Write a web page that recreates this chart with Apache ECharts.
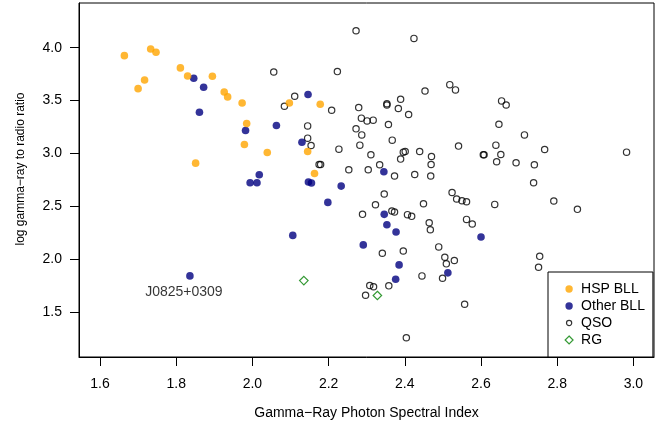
<!DOCTYPE html>
<html>
<head>
<meta charset="utf-8">
<script src="https://cdn.jsdelivr.net/npm/echarts@6/dist/echarts.min.js"></script>
<style>
html,body{margin:0;padding:0;background:#fff;}
#chart{width:672px;height:432px;}
</style>
</head>
<body>
<div id="chart"></div>
<script>
// ---- data ----
const xTicks = [1.6, 1.8, 2.0, 2.2, 2.4, 2.6, 2.8, 3.0];
const yTicks = [1.5, 2.0, 2.5, 3.0, 3.5, 4.0];

const hspBll = [
  [1.664, 3.925], [1.700, 3.613], [1.717, 3.695], [1.733, 3.988], [1.747, 3.957],
  [1.811, 3.809], [1.830, 3.733], [1.895, 3.730], [1.926, 3.582], [1.935, 3.535],
  [1.973, 3.478], [1.985, 3.283], [1.979, 3.085], [1.851, 2.909], [2.039, 3.009],
  [2.097, 3.478], [2.145, 3.019], [2.163, 2.811], [2.178, 3.466]
];

const otherBll = [
  [1.846, 3.711], [1.872, 3.626], [1.861, 3.390], [1.982, 3.217], [2.063, 3.264],
  [2.146, 3.557], [2.130, 3.107], [1.994, 2.724], [2.012, 2.724], [2.018, 2.799],
  [2.147, 2.730], [2.155, 2.721], [2.106, 2.226], [1.836, 1.843], [2.345, 2.827],
  [2.233, 2.692], [2.198, 2.538], [2.346, 2.425], [2.353, 2.327], [2.377, 2.258],
  [2.291, 2.136], [2.600, 2.211], [2.385, 1.947], [2.376, 1.811], [2.513, 1.872]
];

const qso = [
  [2.056, 3.771], [2.084, 3.447], [2.111, 3.541], [2.145, 3.261], [2.145, 3.145],
  [2.154, 3.075], [2.175, 2.896], [2.179, 2.896], [2.272, 4.160], [2.424, 4.088],
  [2.223, 3.774], [2.518, 3.651], [2.533, 3.601], [2.453, 3.591], [2.389, 3.513],
  [2.353, 3.470], [2.353, 3.458], [2.383, 3.425], [2.279, 3.434], [2.208, 3.409],
  [2.410, 3.368], [2.286, 3.334], [2.301, 3.308], [2.317, 3.315], [2.357, 3.274],
  [2.272, 3.233], [2.287, 3.176], [2.367, 3.126], [2.282, 3.079], [2.227, 3.041],
  [2.311, 2.988], [2.396, 3.013], [2.401, 3.019], [2.439, 3.019], [2.470, 2.972],
  [2.469, 2.896], [2.389, 2.947], [2.541, 3.070], [2.606, 2.988], [2.608, 2.988],
  [2.639, 3.079], [2.641, 2.922], [2.647, 3.277], [2.654, 3.497], [2.666, 3.459],
  [2.334, 2.893], [2.253, 2.846], [2.304, 2.846], [2.373, 2.787], [2.426, 2.802],
  [2.468, 2.787], [2.714, 3.176], [2.767, 3.038], [2.982, 3.013], [2.652, 2.991],
  [2.692, 2.912], [2.740, 2.893], [2.738, 2.724], [2.636, 2.519], [2.791, 2.551],
  [2.853, 2.472], [2.754, 2.028], [2.751, 1.925], [2.346, 2.617], [2.323, 2.516],
  [2.289, 2.425], [2.366, 2.457], [2.373, 2.447], [2.407, 2.422], [2.418, 2.406],
  [2.449, 2.525], [2.524, 2.632], [2.536, 2.570], [2.550, 2.554], [2.562, 2.544],
  [2.464, 2.346], [2.467, 2.280], [2.562, 2.377], [2.577, 2.334], [2.489, 2.117],
  [2.396, 2.079], [2.341, 2.057], [2.505, 2.019], [2.530, 1.988], [2.509, 1.957],
  [2.499, 1.821], [2.445, 1.843], [2.308, 1.752], [2.318, 1.740], [2.358, 1.749],
  [2.297, 1.660], [2.557, 1.575], [2.404, 1.258]
];

const rg = [
  [2.135, 1.799], [2.328, 1.658]
];

const annotationPoint = [1.836, 1.843];
const annotationText = 'J0825+0309';

// ---- chart ----
const FONT = "'Liberation Sans', Arial, Helvetica, sans-serif";
const circleIcon = r => `path://M0,0M10,10M${5 + r},5A${r},${r},0,1,1,${5 - r},5A${r},${r},0,1,1,${5 + r},5Z`;
const diamondIcon = 'path://M0,0M10,10M5,0.6L9.4,5L5,9.4L0.6,5Z';

const chart = echarts.init(document.getElementById('chart'), null, {renderer: 'canvas'});
chart.setOption({
  animation: false,
  backgroundColor: '#fff',
  textStyle: {fontFamily: FONT, color: '#000'},
  grid: {
    left: 79, right: 18, top: 3, bottom: 75,
    show: true, borderColor: '#000', borderWidth: 1,
    containLabel: false, outerBoundsMode: 'none'
  },
  xAxis: {
    type: 'value', min: 1.5449, max: 3.054,
    axisLine: {show: true, onZero: false, lineStyle: {color: '#000', width: 1}},
    axisTick: {show: true, inside: false, length: 9, customValues: xTicks, lineStyle: {color: '#000', width: 1}},
    axisLabel: {customValues: xTicks, formatter: v => Number(v).toFixed(1), margin: 20, fontSize: 14, color: '#000', fontFamily: FONT},
    splitLine: {show: false},
    name: 'Gamma\u2212Ray Photon Spectral Index',
    nameLocation: 'middle', nameGap: 49,
    nameTextStyle: {fontSize: 14, color: '#000', fontFamily: FONT}
  },
  yAxis: {
    type: 'value', min: 1.0766, max: 4.4225,
    axisLine: {show: true, onZero: false, lineStyle: {color: '#000', width: 1}},
    axisTick: {show: true, inside: false, length: 9, customValues: yTicks, lineStyle: {color: '#000', width: 1}},
    axisLabel: {customValues: yTicks, formatter: v => Number(v).toFixed(1), margin: 17, fontSize: 14, color: '#000', fontFamily: FONT},
    splitLine: {show: false},
    name: 'log gamma\u2212ray to radio ratio',
    nameLocation: 'middle', nameGap: 52,
    nameTextStyle: {fontSize: 12, color: '#000', fontFamily: FONT, padding: [0, 0, 0, 22]}
  },
  legend: {
    orient: 'vertical', left: 548, top: 272,
    padding: [10, 8, 10, 16],
    itemWidth: 14, itemHeight: 9, itemGap: 3,
    borderColor: '#000', borderWidth: 1, borderRadius: 0,
    backgroundColor: '#fff',
    selectedMode: false,
    textStyle: {fontSize: 14, lineHeight: 14, color: '#000', fontFamily: FONT},
    data: [
      {name: 'HSP BLL', icon: circleIcon(4.1)},
      {name: 'Other BLL', icon: circleIcon(4.1)},
      {name: 'QSO', icon: circleIcon(2.9), itemStyle: {color: 'rgba(0,0,0,0)', borderColor: '#000', borderWidth: 1.2}},
      {name: 'RG', icon: diamondIcon, itemStyle: {color: 'rgba(0,0,0,0)', borderColor: '#007F00', borderWidth: 1.2}}
    ]
  },
  series: [
    {
      type: 'scatter', name: 'QSO', data: qso, symbol: 'circle', symbolSize: 6.3,
      itemStyle: {color: 'rgba(0,0,0,0)', borderColor: '#000', borderWidth: 1.2},
      emphasis: {disabled: true}
    },
    {
      type: 'scatter', name: 'Other BLL', data: otherBll, symbol: 'circle', symbolSize: 7.6,
      itemStyle: {color: '#000080'},
      emphasis: {disabled: true}
    },
    {
      type: 'scatter', name: 'HSP BLL', data: hspBll, symbol: 'circle', symbolSize: 7.6,
      itemStyle: {color: '#FFA500'},
      emphasis: {disabled: true}
    },
    {
      type: 'scatter', name: 'RG', data: rg, symbol: 'diamond', symbolSize: 8.5,
      itemStyle: {color: 'rgba(0,0,0,0)', borderColor: '#007F00', borderWidth: 1.2},
      emphasis: {disabled: true}
    },
    {
      type: 'scatter', name: 'annotation', data: [annotationPoint], symbolSize: 0, silent: true,
      label: {show: true, formatter: annotationText, position: 'bottom', distance: 9, offset: [-6, 0],
              fontSize: 14, color: '#000', fontFamily: FONT},
      emphasis: {disabled: true}
    }
  ]
});
</script>
</body>
</html>
